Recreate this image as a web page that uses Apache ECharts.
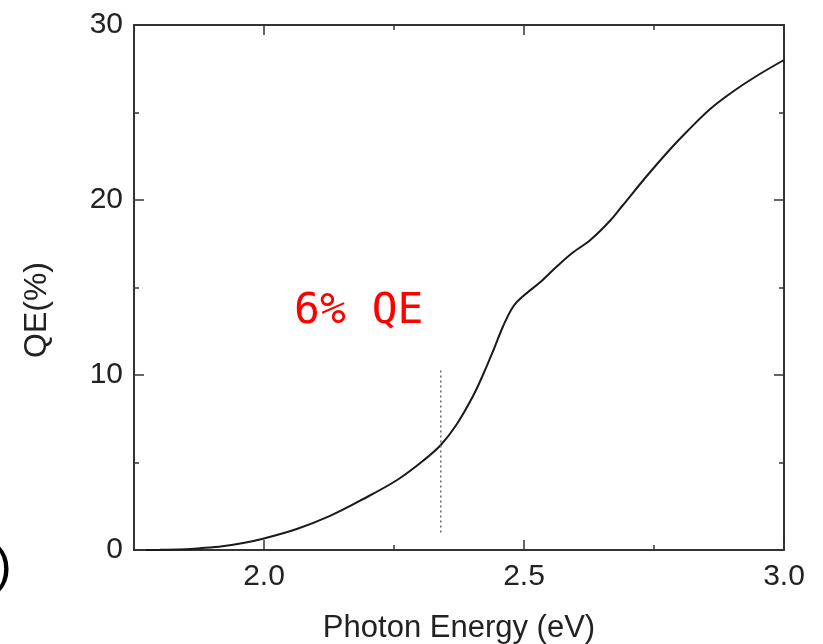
<!DOCTYPE html>
<html>
<head>
<meta charset="utf-8">
<script src="https://cdn.jsdelivr.net/npm/echarts@6/dist/echarts.min.js"></script>
<style>
  html, body { margin: 0; padding: 0; background: #fff; }
  #chart { width: 823px; height: 644px; }
</style>
</head>
<body>
<div id="chart"></div>
<script>
// Quantum efficiency spectrum
const energy = [1.773, 1.80, 1.85, 1.877, 1.92, 1.96, 2.0, 2.063, 2.127, 2.19, 2.256, 2.306, 2.34,
  2.371, 2.402, 2.421, 2.441, 2.46, 2.479, 2.498, 2.531, 2.563, 2.594, 2.627, 2.665, 2.69,
  2.737, 2.781, 2.813, 2.858, 2.902, 2.948, 3.0];
const qe = [0, 0.01, 0.04, 0.1, 0.22, 0.4, 0.66, 1.2, 1.95, 2.9, 4.0, 5.1, 6.0,
  7.2, 8.8, 10.0, 11.4, 12.8, 13.9, 14.5, 15.3, 16.2, 17.0, 17.7, 18.8, 19.7,
  21.4, 22.9, 23.9, 25.2, 26.2, 27.1, 28.0];

// Marker at the 6 % point
const markerEnergy = 2.34;
const markerRange = [1.0, 10.4];
const markerText = '6% QE';

// Axis ticks
const xMajorTicks = [2.0, 2.5, 3.0];
const xMinorTicks = [2.25, 2.75];
const xRange = [1.75, 3.0];
const yRange = [0, 30];
const yStep = 10;

const axisColor = '#333';
const labelFont = 'Liberation Sans';

function xAxisDef(pos, ticks, len, showLine, showLabel) {
  return {
    type: 'value', position: pos, min: xRange[0], max: xRange[1],
    splitLine: { show: false },
    axisLine: { show: showLine, onZero: false, lineStyle: { color: axisColor, width: 2 } },
    axisTick: { show: true, inside: true, length: len, customValues: ticks,
      lineStyle: { color: axisColor, width: 1.5 } },
    axisLabel: showLabel ? {
      show: true, customValues: ticks, margin: 12,
      fontFamily: labelFont, fontSize: 30, color: '#222',
      formatter: v => v.toFixed(1)
    } : { show: false }
  };
}

function yAxisDef(pos, showLabel) {
  return {
    type: 'value', position: pos, min: yRange[0], max: yRange[1], interval: yStep,
    splitLine: { show: false },
    axisLine: { show: true, onZero: false, lineStyle: { color: axisColor, width: 2 } },
    axisTick: { show: true, inside: true, length: 10, lineStyle: { color: axisColor, width: 1.5 } },
    minorTick: { show: true, splitNumber: 2, length: 5, lineStyle: { color: axisColor, width: 1.5 } },
    axisLabel: showLabel ? {
      show: true, margin: 11, fontFamily: labelFont, fontSize: 30, color: '#222'
    } : { show: false }
  };
}

const chart = echarts.init(document.getElementById('chart'), null, { renderer: 'canvas' });

const xAxes = [
  xAxisDef('bottom', xMajorTicks, 10, true, true),
  xAxisDef('bottom', xMinorTicks, 5, false, false),
  xAxisDef('top', xMajorTicks, 10, true, false),
  xAxisDef('top', xMinorTicks, 5, false, false)
];
Object.assign(xAxes[0], {
  name: 'Photon Energy (eV)', nameLocation: 'middle', nameGap: 63,
  nameTextStyle: { fontFamily: labelFont, fontSize: 31, color: '#222' }
});

const yAxes = [yAxisDef('left', true), yAxisDef('right', false)];

chart.setOption({
  animation: false,
  backgroundColor: '#fff',
  grid: { left: 134, right: 39, top: 25, bottom: 94, containLabel: false, outerBoundsMode: 'none' },
  xAxis: xAxes,
  yAxis: yAxes,
  series: [
    {
      type: 'line', xAxisIndex: 0, yAxisIndex: 0,
      data: energy.map((e, i) => [e, qe[i]]),
      smooth: 0.35, symbol: 'none',
      lineStyle: { color: '#1a1a1a', width: 2 }
    },
    {
      type: 'line', xAxisIndex: 0, yAxisIndex: 0,
      data: markerRange.map(v => [markerEnergy, v]),
      symbol: 'none',
      lineStyle: { color: '#666', width: 1.5, type: [2, 3] }
    }
  ],
  graphic: [
    {
      // vertical axis title
      type: 'text', x: 37, y: 310, rotation: Math.PI / 2,
      style: { text: 'QE(%)', fill: '#222', font: '32px "Liberation Sans"',
        align: 'center', verticalAlign: 'middle' }
    },
    {
      type: 'text', left: 294, top: 290,
      style: { text: markerText, fill: '#ff0000', font: '43px "DejaVu Sans Mono"' }
    },
    {
      type: 'text', left: -5, top: 543,
      style: { text: ')', fill: '#000', font: '50px "Liberation Sans"' }
    }
  ]
});
</script>
</body>
</html>
